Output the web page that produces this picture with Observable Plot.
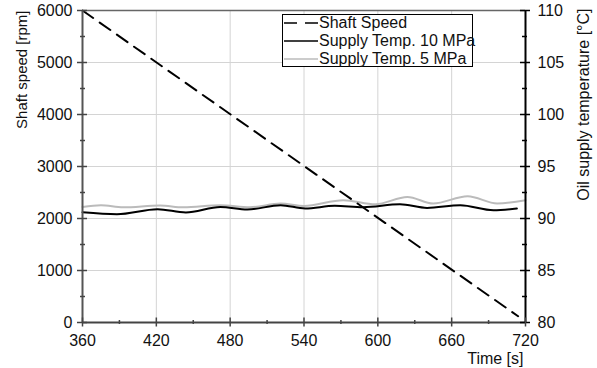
<!DOCTYPE html>
<html>
<head>
<meta charset="utf-8">
<script src="https://cdn.jsdelivr.net/npm/d3@7"></script>
<script src="https://cdn.jsdelivr.net/npm/@observablehq/plot@0.6"></script>
<style>
  body { margin: 0; background: #fff; }
  #wrap { position: relative; width: 597px; height: 368px; font-family: "Liberation Sans", Arial, sans-serif; }
  #legend { position: absolute; left: 282px; top: 14px; width: 189px; height: 51px; border: 1px solid #000; background: #fff; font-size: 16px; color: #111; }
  .row { position: absolute; left: 0; height: 18px; line-height: 18px; white-space: nowrap; }
  .row svg { position: absolute; left: 1px; top: 0; }
  .row span { position: absolute; left: 36px; top: 0; }
</style>
</head>
<body>
<div id="wrap"><div id="chart"></div><div id="legend"></div></div>
<script>
// ---- data ----
const shaftTime = [360, 714];
const shaftSpeed = [6000, 120];

const time10 = [360, 388, 421, 444, 472, 494, 521, 541, 565, 588, 618, 640, 667, 694, 713];
const temp10 = [90.60, 90.41, 90.89, 90.58, 91.11, 90.86, 91.28, 90.96, 91.22, 91.09, 91.37, 91.02, 91.28, 90.80, 90.96];

const time5 = [360, 375, 393, 423, 442, 472, 496, 521, 540, 572, 598, 624, 645, 673, 697, 720];
const temp5 = [91.11, 91.28, 91.08, 91.25, 91.08, 91.28, 91.08, 91.44, 91.21, 91.76, 91.37, 92.07, 91.44, 92.14, 91.44, 91.76];

const xMajor = [360, 420, 480, 540, 600, 660, 720];
const xMinor = [390, 450, 510, 570, 630, 690];
const xGrid = [420, 480, 540, 600, 660];
const yMajor = [0, 1000, 2000, 3000, 4000, 5000, 6000];
const yMinor = [500, 1500, 2500, 3500, 4500, 5500];
const yGrid = [1000, 2000, 3000, 4000, 5000];
const tempMin = 80, tempPerRpm = 1 / 200; // right axis: 80..110 °C over 0..6000 rpm

const legendLabels = ["Shaft Speed", "Supply Temp. 10 MPa", "Supply Temp. 5 MPa"];
const legendColors = ["#000", "#000", "#bbb"];
const legendDash = ["13,8", null, null];

const xLabel = "Time [s]";
const yLabel = "Shaft speed [rpm]";
const y2Label = "Oil supply temperature [°C]";

// ---- build ----
const shaft = shaftTime.map((t, i) => ({t, v: shaftSpeed[i]}));
const s10 = time10.map((t, i) => ({t, v: (temp10[i] - tempMin) / tempPerRpm}));
const s5 = time5.map((t, i) => ({t, v: (temp5[i] - tempMin) / tempPerRpm}));

const W = 597, H = 368, mL = 82, mR = 72, mT = 10, mB = 46;
const pW = W - mL - mR, pH = H - mT - mB;

const chart = Plot.plot({
  width: W, height: H,
  marginLeft: mL, marginRight: mR, marginTop: mT, marginBottom: mB,
  style: {fontSize: "16px", fontFamily: "'Liberation Sans', Arial, sans-serif", background: "#fff", color: "#111"},
  x: {domain: [360, 720]},
  y: {domain: [0, 6000]},
  marks: [
    Plot.ruleX(xGrid, {stroke: "#d4d4d4", strokeWidth: 1}),
    Plot.ruleY(yGrid, {stroke: "#d4d4d4", strokeWidth: 1}),
    Plot.line(s5, {x: "t", y: "v", stroke: "#bbb", strokeWidth: 2, curve: "monotone-x"}),
    Plot.line(s10, {x: "t", y: "v", stroke: "#000", strokeWidth: 2, curve: "monotone-x"}),
    Plot.line(shaft, {x: "t", y: "v", stroke: "#000", strokeWidth: 2, strokeDasharray: "13,8"}),
    Plot.ruleY([6000], {stroke: "#666", strokeWidth: 1.5}),
    Plot.ruleY([0], {stroke: "#444", strokeWidth: 2}),
    Plot.ruleX([360], {stroke: "#555", strokeWidth: 2}),
    Plot.ruleX([720], {stroke: "#000", strokeWidth: 2}),
    // ticks crossing the axes
    Plot.tickY(yMajor, {y: d => d, insetRight: pW - 10, dx: -5, stroke: "#444", strokeWidth: 1.5}),
    Plot.tickY(yMinor, {y: d => d, insetRight: pW - 5, dx: -2, stroke: "#444", strokeWidth: 1.5}),
    Plot.tickY(yMajor, {y: d => d, insetLeft: pW - 10, dx: 5, stroke: "#000", strokeWidth: 1.5}),
    Plot.tickY(yMinor, {y: d => d, insetLeft: pW - 5, dx: 2, stroke: "#000", strokeWidth: 1.5}),
    Plot.tickX(xMajor, {x: d => d, insetTop: pH - 9, dy: 4.5, stroke: "#444", strokeWidth: 1.5}),
    Plot.tickX(xMinor, {x: d => d, insetTop: pH - 4, dy: 2, stroke: "#444", strokeWidth: 1.5}),
    // tick labels
    Plot.axisY({anchor: "left", ticks: yMajor, tickSize: 0, tickPadding: 10, tickFormat: d => String(d), label: null}),
    Plot.axisY({anchor: "right", ticks: yMajor, tickSize: 0, tickPadding: 12, tickFormat: d => String(tempMin + d * tempPerRpm), label: null}),
    Plot.axisX({ticks: xMajor, tickSize: 0, tickPadding: 12, tickFormat: d => String(d), label: null}),
    // axis titles
    Plot.text([yLabel], {text: d => d, frameAnchor: "top-left", rotate: -90, textAnchor: "end", lineAnchor: "middle", dx: -60, dy: 0, fontSize: 15}),
    Plot.text([y2Label], {text: d => d, frameAnchor: "top-right", rotate: -90, textAnchor: "end", lineAnchor: "middle", dx: 58, dy: -2, fontSize: 16}),
    Plot.text([xLabel], {text: d => d, frameAnchor: "bottom-right", textAnchor: "end", lineAnchor: "middle", dx: -2, dy: 36, fontSize: 16})
  ]
});
document.getElementById("chart").appendChild(chart);

// legend
const leg = document.getElementById("legend");
const centers = [8, 26, 44];
legendLabels.forEach((lab, i) => {
  const row = document.createElement("div");
  row.className = "row";
  row.style.top = (centers[i] - 9) + "px";
  row.style.width = "189px";
  const svg = `<svg width="34" height="18"><line x1="0" y1="9" x2="34" y2="9" stroke="${legendColors[i]}" stroke-width="${i === 2 ? 1.5 : 1.5}" ${legendDash[i] ? `stroke-dasharray="${legendDash[i]}"` : ""}/></svg>`;
  row.innerHTML = svg + `<span>${lab}</span>`;
  leg.appendChild(row);
});
</script>
</body>
</html>
